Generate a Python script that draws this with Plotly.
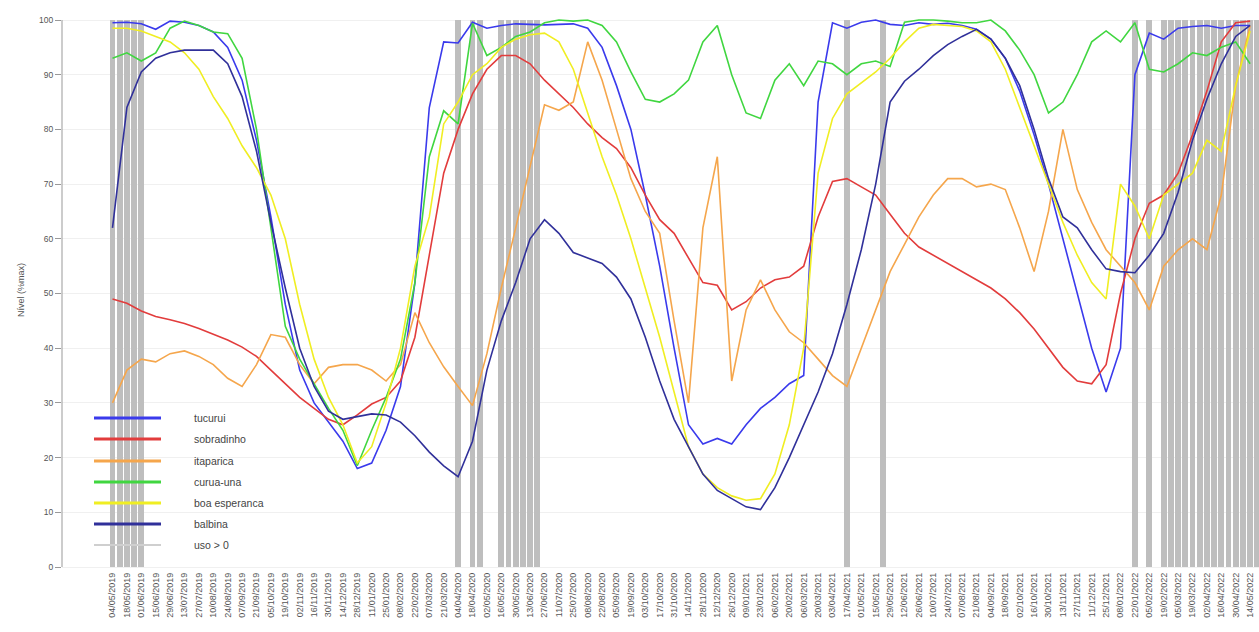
import plotly.graph_objects as go
import pandas as pd

# ---------------- data ----------------
label_dates = pd.date_range("2019-05-04", periods=80, freq="14D")
tick_labels = [d.strftime("%d/%m/%Y") for d in label_dates]
tick_weeks = list(range(0, 160, 2))          # week index of each biweekly label / sample

series_names = ["tucurui", "sobradinho", "itaparica", "curua-una", "boa esperanca", "balbina"]

tucurui = [99.5, 99.6, 99.3, 98.3, 99.8, 99.6, 99.0, 97.8, 95, 89,
           78, 64, 48, 36, 30, 26.5, 23, 18, 19, 25,
           33, 52, 84, 96, 95.8, 99.6, 98.5, 99, 99.3, 99.2,
           99.1, 99.2, 99.3, 98.5, 95, 88, 80, 68, 55, 40,
           26, 22.5, 23.5, 22.5, 26, 29, 31, 33.5, 35, 85,
           99.5, 98.5, 99.6, 100, 99.2, 99, 99.5, 99.2, 99.4, 99,
           98.3, 96.5, 93, 87, 79, 70, 60, 50, 40, 32,
           40, 90, 97.6, 96.5, 98.5, 98.8, 99, 98.5, 99, 99]

sobradinho = [49, 48.2, 46.8, 45.8, 45.2, 44.5, 43.6, 42.6, 41.5, 40.2,
              38.5, 36, 33.5, 31, 29, 27, 26, 27.8, 29.8, 31,
              34, 42, 57, 72, 80, 86.5, 91, 93.5, 93.5, 92,
              89, 86.5, 84, 81, 78.5, 76.5, 73, 68, 63.5, 61,
              56.5, 52, 51.5, 47, 48.5, 51, 52.5, 53, 55, 64,
              70.5, 71, 69.5, 68, 64.5, 61, 58.5, 57, 55.5, 54,
              52.5, 51, 49, 46.5, 43.5, 40, 36.5, 34, 33.5, 37,
              50, 60, 66.5, 68, 72, 79, 87, 96, 99.5, 99.8]

itaparica = [30, 36, 38, 37.5, 39, 39.5, 38.5, 37, 34.5, 33,
             37, 42.5, 42, 37, 33.5, 36.5, 37, 37, 36, 34,
             37, 46.5, 41, 36.6, 33, 29.5, 39, 51, 62, 73,
             84.5, 83.5, 85, 96, 89, 80, 71, 65, 61, 45,
             30, 62, 75, 34, 47, 52.5, 47, 43, 41, 38,
             35, 33, 40, 47, 54, 59, 64, 68, 71, 71,
             69.5, 70, 69, 62, 54, 65, 80, 69, 63, 58,
             55, 52, 47, 55, 58, 60, 58, 68, 88, 99]

curua_una = [93, 94, 92.5, 94, 98.5, 99.8, 99, 97.8, 97.5, 93,
             80, 62, 44, 38, 33.5, 29, 25, 18.5, 25, 31,
             38, 52, 75, 83.4, 81, 99.4, 93.5, 95, 97, 97.8,
             99.5, 100, 99.8, 100, 99, 96, 90.5, 85.5, 85, 86.5,
             89, 96, 99, 90, 83, 82, 89, 92, 88, 92.5,
             92, 90, 92, 92.5, 91.5, 99.6, 100, 100, 99.8, 99.5,
             99.5, 100, 98, 94.5, 90, 83, 85, 90, 96, 98,
             96, 99.5, 91, 90.5, 92, 94, 93.5, 95, 96, 92]

boa_esperanca = [98.5, 98.5, 98, 97, 96, 94, 91, 86, 82, 77,
                 73, 68, 60, 48, 38, 31, 26, 19, 22, 30,
                 40, 55, 64, 81, 85, 90, 92, 95, 96.5, 97.3,
                 97.6, 96, 91, 83, 75, 68, 60, 51, 42, 32,
                 22, 17, 14.5, 13, 12.2, 12.5, 17, 26, 40, 72,
                 82, 86.5, 88.5, 90.5, 93, 96, 98.5, 99.2, 99, 98.8,
                 98, 96, 91, 84, 77, 70, 63, 57, 52, 49,
                 70, 66, 60, 68, 70, 72, 78, 76, 88, 98]

balbina = [62, 84, 90.5, 93, 94, 94.5, 94.5, 94.5, 92, 86,
           76, 63, 51, 40, 33, 28.5, 27, 27.5, 28, 27.8,
           26.5, 24, 21, 18.5, 16.5, 23, 36, 45, 52, 60,
           63.5, 61, 57.5, 56.5, 55.5, 53, 49, 42, 34, 27,
           22, 17, 14, 12.5, 11, 10.5, 14.5, 20, 26, 32,
           39, 48, 58, 70, 85, 88.8, 91, 93.5, 95.5, 97,
           98.3, 96.5, 93, 88, 80, 71, 64, 62, 58, 54.5,
           54, 53.8, 57, 61, 68.5, 78, 85.5, 92, 97, 99]

uso_weeks = [0, 1, 2, 3, 4, 48, 50, 51, 54, 55, 56, 57, 58, 59, 102, 107, 142, 144] + list(range(146, 160))
uso_values = [100] * len(uso_weeks)

series_values = [tucurui, sobradinho, itaparica, curua_una, boa_esperanca, balbina]
series_colors = ["#3a3aec", "#e23c3c", "#f5a64c", "#40d640", "#f0ee22", "#30309a"]
uso_color = "#bebebe"

# ---------------- figure ----------------
W, H = 1259, 632
L, R, T, B = 62, 0, 0, 62
PW, PH = W - L - R, H - T - B
X0_PX, WEEK_PX = 112.5, 7.2
Y0_PX, UNIT_PX = 567.0, 5.47

def px_to_paper_x(px):
    return (px - L) / PW

def px_to_paper_y(py):
    return (H - B - py) / PH

fig = go.Figure()

fig.add_trace(go.Bar(x=uso_weeks, y=uso_values, width=0.8,
                     marker=dict(color=uso_color, line=dict(width=0)),
                     showlegend=False, hoverinfo="skip"))

for name, vals, col in zip(series_names, series_values, series_colors):
    fig.add_trace(go.Scatter(x=tick_weeks, y=vals, mode="lines", name=name,
                             line=dict(color=col, width=1.6), showlegend=False))

xr = [(L - X0_PX) / WEEK_PX, (L + PW - X0_PX) / WEEK_PX]
yr = [-(PH + T - Y0_PX) / UNIT_PX, (Y0_PX - T) / UNIT_PX]

fig.update_layout(
    width=W, height=H,
    margin=dict(l=L, r=R, t=T, b=B),
    paper_bgcolor="white", plot_bgcolor="white",
    font=dict(family="Liberation Sans, Arial, sans-serif", color="#555555"),
    bargap=0,
    xaxis=dict(range=xr, tickmode="array", tickvals=tick_weeks, ticktext=tick_labels,
               tickangle=-90, tickfont=dict(size=9, color="#555555"),
               showgrid=False, zeroline=False, showline=False, ticks=""),
    yaxis=dict(range=yr, tickmode="array", tickvals=list(range(0, 101, 10)),
               tickfont=dict(size=8.5, color="#555555"),
               showgrid=True, gridcolor="#f0f0f0", gridwidth=1,
               zeroline=False, showline=False, ticks="outside", ticklen=6,
               tickcolor="#999999"),
)

shapes = [dict(type="line", xref="paper", yref="y", x0=0, x1=0, y0=0, y1=100,
               line=dict(color="#999999", width=1))]
annotations = [dict(text="Nível (%max)", xref="paper", yref="paper",
                    x=px_to_paper_x(14), y=px_to_paper_y(290), textangle=-90,
                    showarrow=False, font=dict(size=9, color="#555555"))]

legend_names = series_names + ["uso > 0"]
legend_colors = series_colors + ["#cfcfcf"]
legend_widths = [3, 3, 3, 3, 3, 3, 2]
row_y = [418, 439, 461, 482, 503, 524, 545]
for nm, col, lw, ry in zip(legend_names, legend_colors, legend_widths, row_y):
    shapes.append(dict(type="line", xref="paper", yref="paper", layer="above",
                       x0=px_to_paper_x(94), x1=px_to_paper_x(161),
                       y0=px_to_paper_y(ry), y1=px_to_paper_y(ry),
                       line=dict(color=col, width=lw)))
    annotations.append(dict(text=nm, xref="paper", yref="paper",
                            x=px_to_paper_x(192), y=px_to_paper_y(ry),
                            xanchor="left", yanchor="middle", showarrow=False,
                            font=dict(size=10.5, color="#444444")))

fig.update_layout(shapes=shapes, annotations=annotations)

fig.write_html("out.html", config={"displayModeBar": False},
               post_script="document.body.style.margin='0px';")
